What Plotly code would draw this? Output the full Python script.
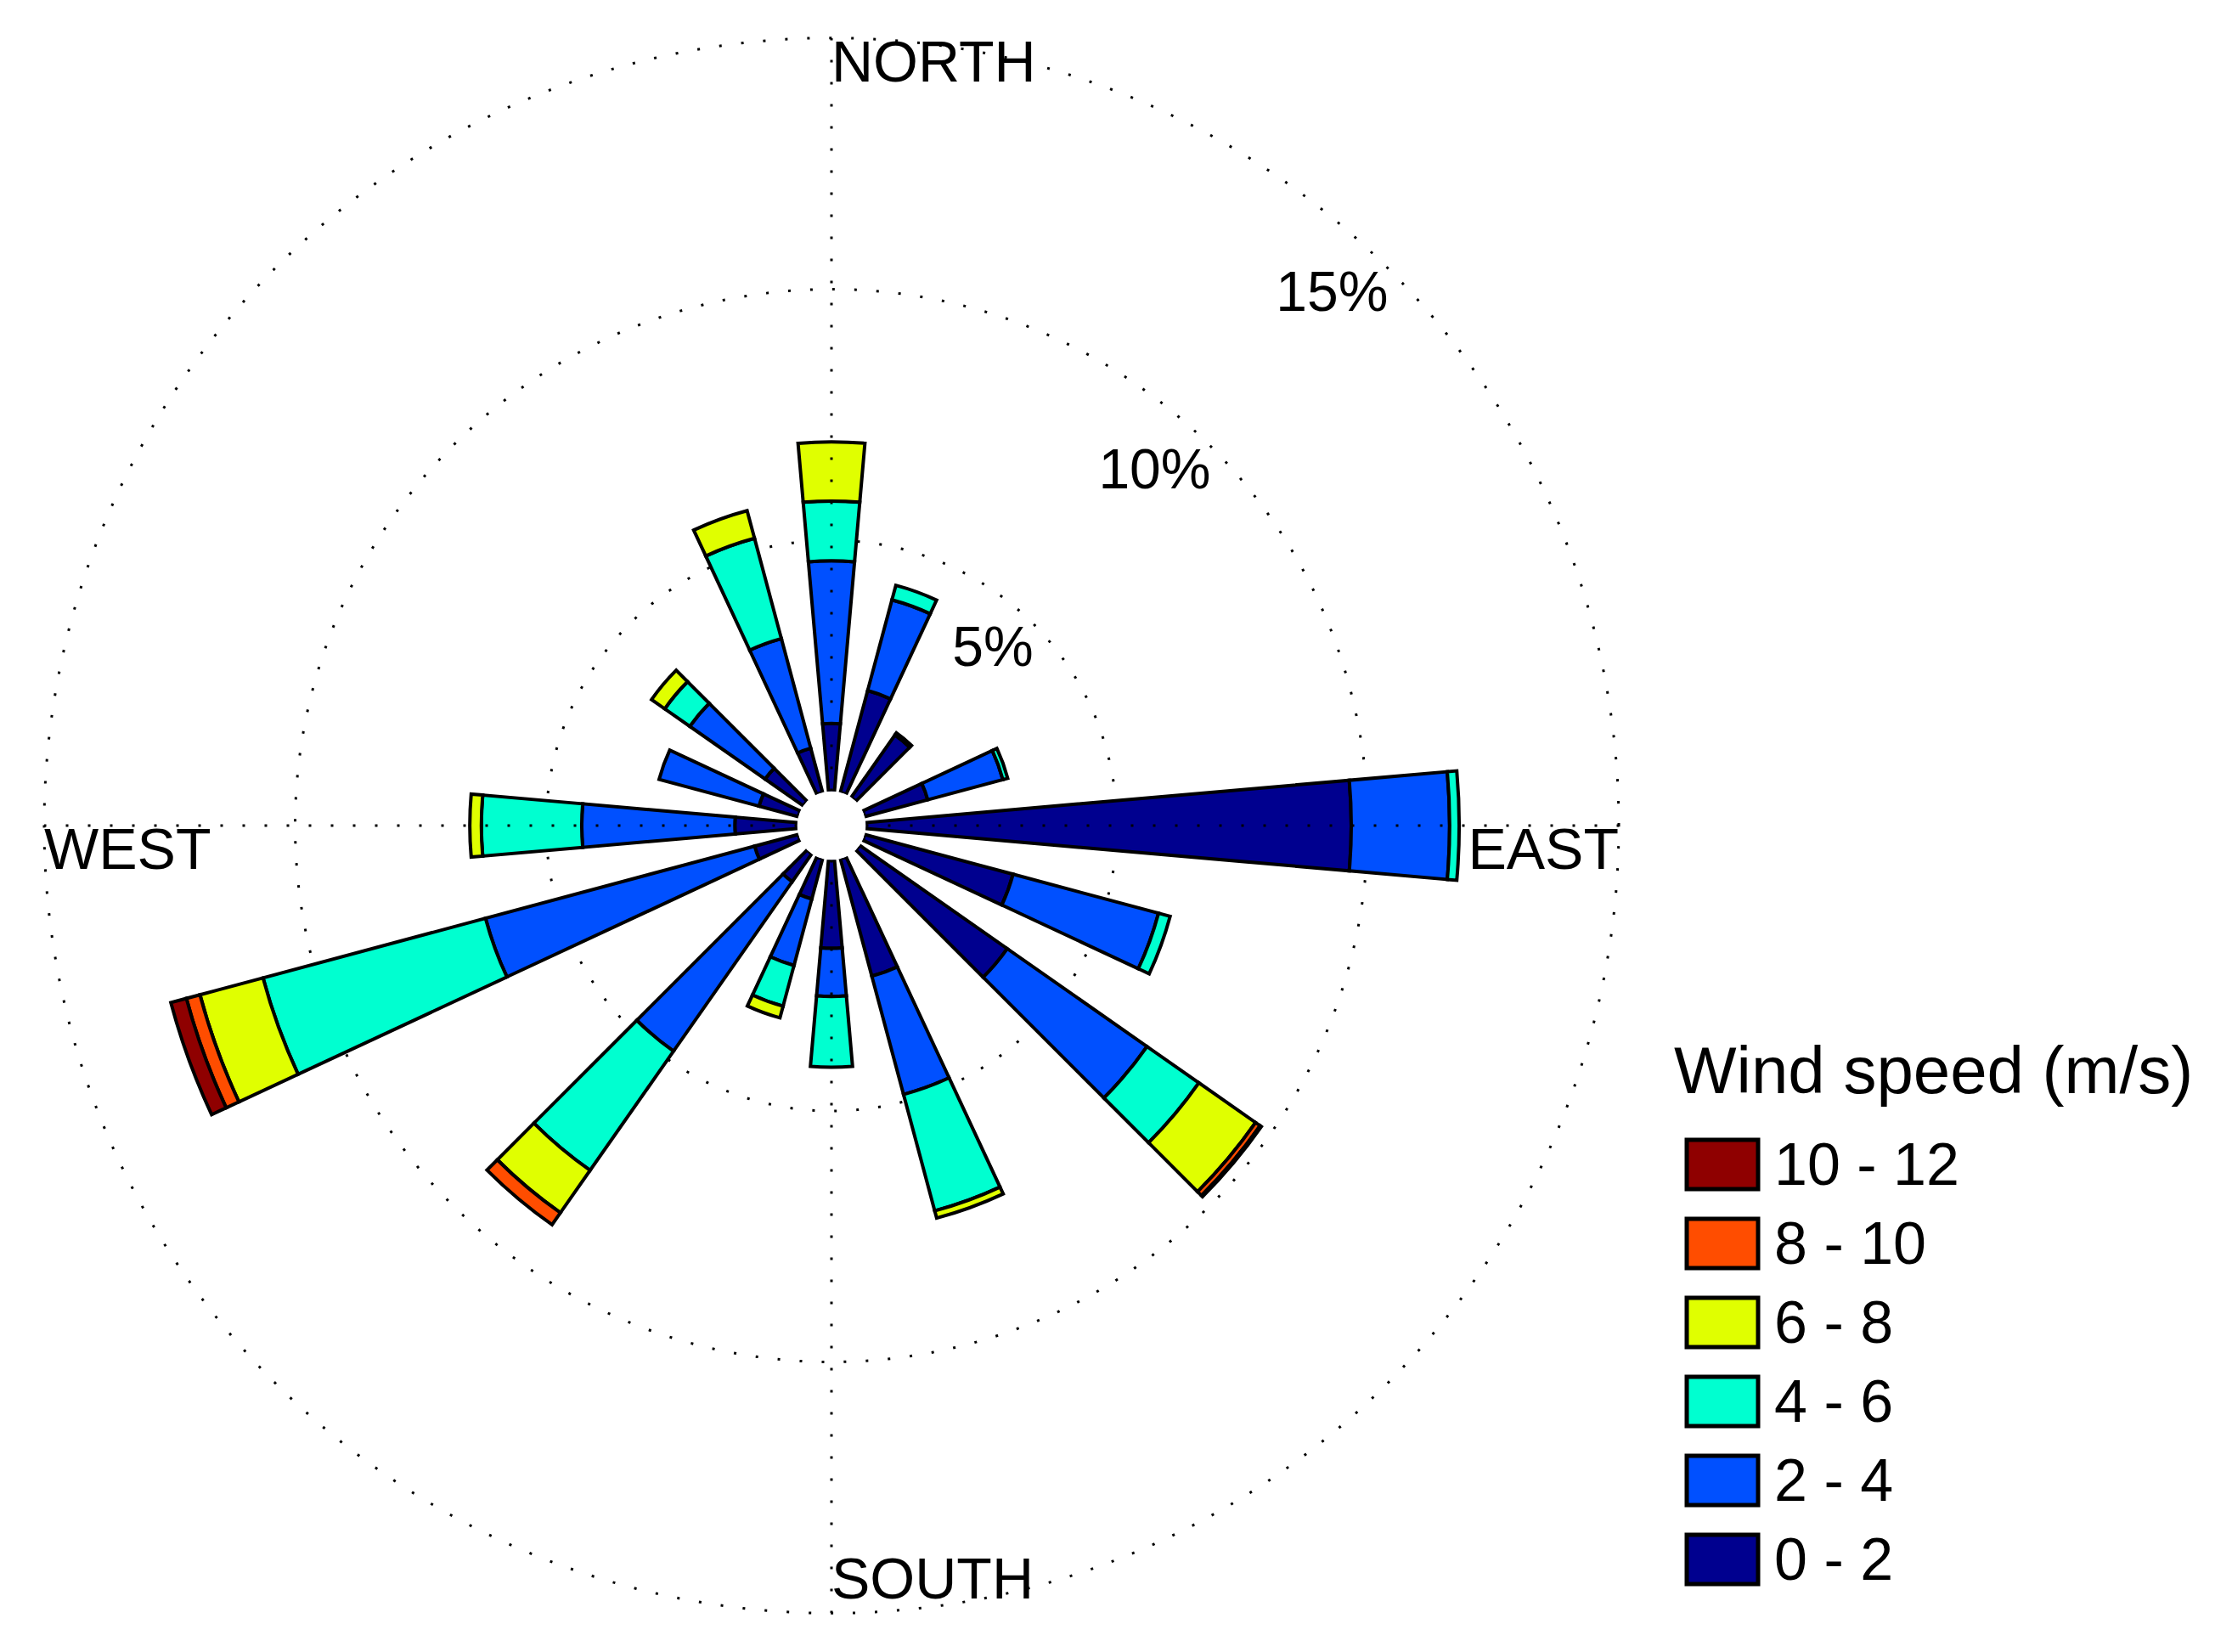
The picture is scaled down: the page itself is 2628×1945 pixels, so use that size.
import plotly.graph_objects as go

# compass direction of each bar (degrees, clockwise from north)
directions = [0, 20, 40, 70, 90, 110, 130, 160, 180, 200, 220, 250, 270, 290, 310, 340]
speed_bins = ["0 - 2", "2 - 4", "4 - 6", "6 - 8", "8 - 10", "10 - 12"]
bin_colors = ["#00008F", "#0050FF", "#00FFD0", "#E0FF00", "#FF4D00", "#8F0000"]

# frequency (%) per direction, N -> NNW
freq_0_2 = [1.35, 2.10, 1.52, 1.30, 9.67, 3.06, 3.59, 2.42, 1.76, 0.83, 0.68, 0.90, 1.24, 0.81, 0.93, 0.91]
freq_2_4 = [3.24, 1.87, 0.00, 1.55, 1.96, 3.00, 3.40, 2.44, 0.96, 1.37, 4.12, 5.55, 3.05, 2.06, 1.83, 2.26]
freq_4_6 = [1.19, 0.30, 0.05, 0.10, 0.19, 0.24, 1.26, 2.40, 1.41, 0.84, 2.90, 4.59, 2.00, 0.00, 0.61, 2.07]
freq_6_8 = [1.18, 0.00, 0.00, 0.00, 0.00, 0.00, 1.38, 0.15, 0.00, 0.24, 1.03, 1.30, 0.23, 0.00, 0.32, 0.57]
freq_8_10 = [0.00, 0.00, 0.00, 0.00, 0.00, 0.00, 0.11, 0.00, 0.00, 0.00, 0.29, 0.28, 0.00, 0.00, 0.00, 0.00]
freq_10_12 = [0.00, 0.00, 0.00, 0.00, 0.00, 0.00, 0.03, 0.00, 0.00, 0.00, 0.00, 0.32, 0.00, 0.00, 0.00, 0.00]

ring_ticks = [5, 10, 15]
ring_labels = ["5%", "10%", "15%"]
compass_angles = [0, 90, 180, 270]
compass_labels = ["NORTH", "EAST", "SOUTH", "WEST"]

W, H = 2628, 1945
FONT = "Liberation Sans, Arial, sans-serif"

fig = go.Figure()
all_freqs = [freq_0_2, freq_2_4, freq_4_6, freq_6_8, freq_8_10, freq_10_12]
for name, col, vals in zip(speed_bins, bin_colors, all_freqs):
    fig.add_trace(go.Barpolar(r=[v if v > 0 else None for v in vals], theta=directions, width=10, name=name,
                              marker=dict(color=col, line=dict(color="black", width=4)), showlegend=False))

# direction names and ring labels as text
fig.add_trace(go.Scatterpolar(r=[ring_ticks[-1]] * 4, theta=compass_angles, mode="text", text=compass_labels,
                              textposition=["bottom right", "bottom left", "top right", "bottom right"],
                              textfont=dict(size=68, color="black", family=FONT), hoverinfo="skip",
                              showlegend=False, cliponaxis=False))
fig.add_trace(go.Scatterpolar(r=ring_ticks, theta=[45] * 3, mode="text", text=ring_labels, textposition="bottom left",
                              textfont=dict(size=66, color="black", family=FONT), hoverinfo="skip",
                              showlegend=False, cliponaxis=False))

# polar area in px: centre (979, 972), 0% at 40.5 px, 59.1 px per percent
cx, cy, r0, k = 979, 972, 40.5, 59.1
rmax = 15.5
R = r0 + k * rmax
fig.update_layout(
    width=W, height=H, margin=dict(l=0, r=0, t=0, b=0),
    paper_bgcolor="white", plot_bgcolor="white", barmode="stack",
    polar=dict(
        domain=dict(x=[(cx - R) / W, (cx + R) / W], y=[1 - (cy + R) / H, 1 - (cy - R) / H]),
        hole=r0 / R, bgcolor="white",
        radialaxis=dict(range=[0, rmax], tickvals=ring_ticks, showticklabels=False, ticks="",
                        showline=False, showgrid=True, gridcolor="black", gridwidth=3, griddash="3px,23px"),
        angularaxis=dict(rotation=90, direction="clockwise", tickvals=compass_angles, showticklabels=False,
                         ticks="", showline=False, showgrid=False),
    ),
)

# N-S and E-W dotted axes, from hole edge to the outer ring
for ang in compass_angles:
    fig.add_trace(go.Scatterpolar(r=[0, ring_ticks[-1]], theta=[ang, ang], mode="lines", hoverinfo="skip",
                                  line=dict(color="black", width=3, dash="3px,23px"), showlegend=False))
fig.data = fig.data[-4:] + fig.data[:-4]

# legend drawn by hand so the swatches can be large
fig.add_annotation(x=1969 / W, y=1 - 1260 / H, xref="paper", yref="paper", xanchor="left", yanchor="middle",
                   text="Wind speed (m/s)", showarrow=False, font=dict(size=78, color="black", family=FONT))
row0, pitch = 1371, 93
for i, (name, col) in enumerate(zip(speed_bins[::-1], bin_colors[::-1])):
    yc = row0 + i * pitch
    fig.add_shape(type="rect", xref="paper", yref="paper", x0=1986 / W, x1=2070 / W,
                  y0=1 - (yc + 29) / H, y1=1 - (yc - 29) / H, fillcolor=col, line=dict(color="black", width=5))
    fig.add_annotation(x=2087 / W, y=1 - yc / H, xref="paper", yref="paper", xanchor="left", yanchor="middle",
                       text=name, showarrow=False, font=dict(size=70, color="black", family=FONT))

fig.write_html("out.html", config={"displayModeBar": False}, post_script="document.body.style.margin='0';")
